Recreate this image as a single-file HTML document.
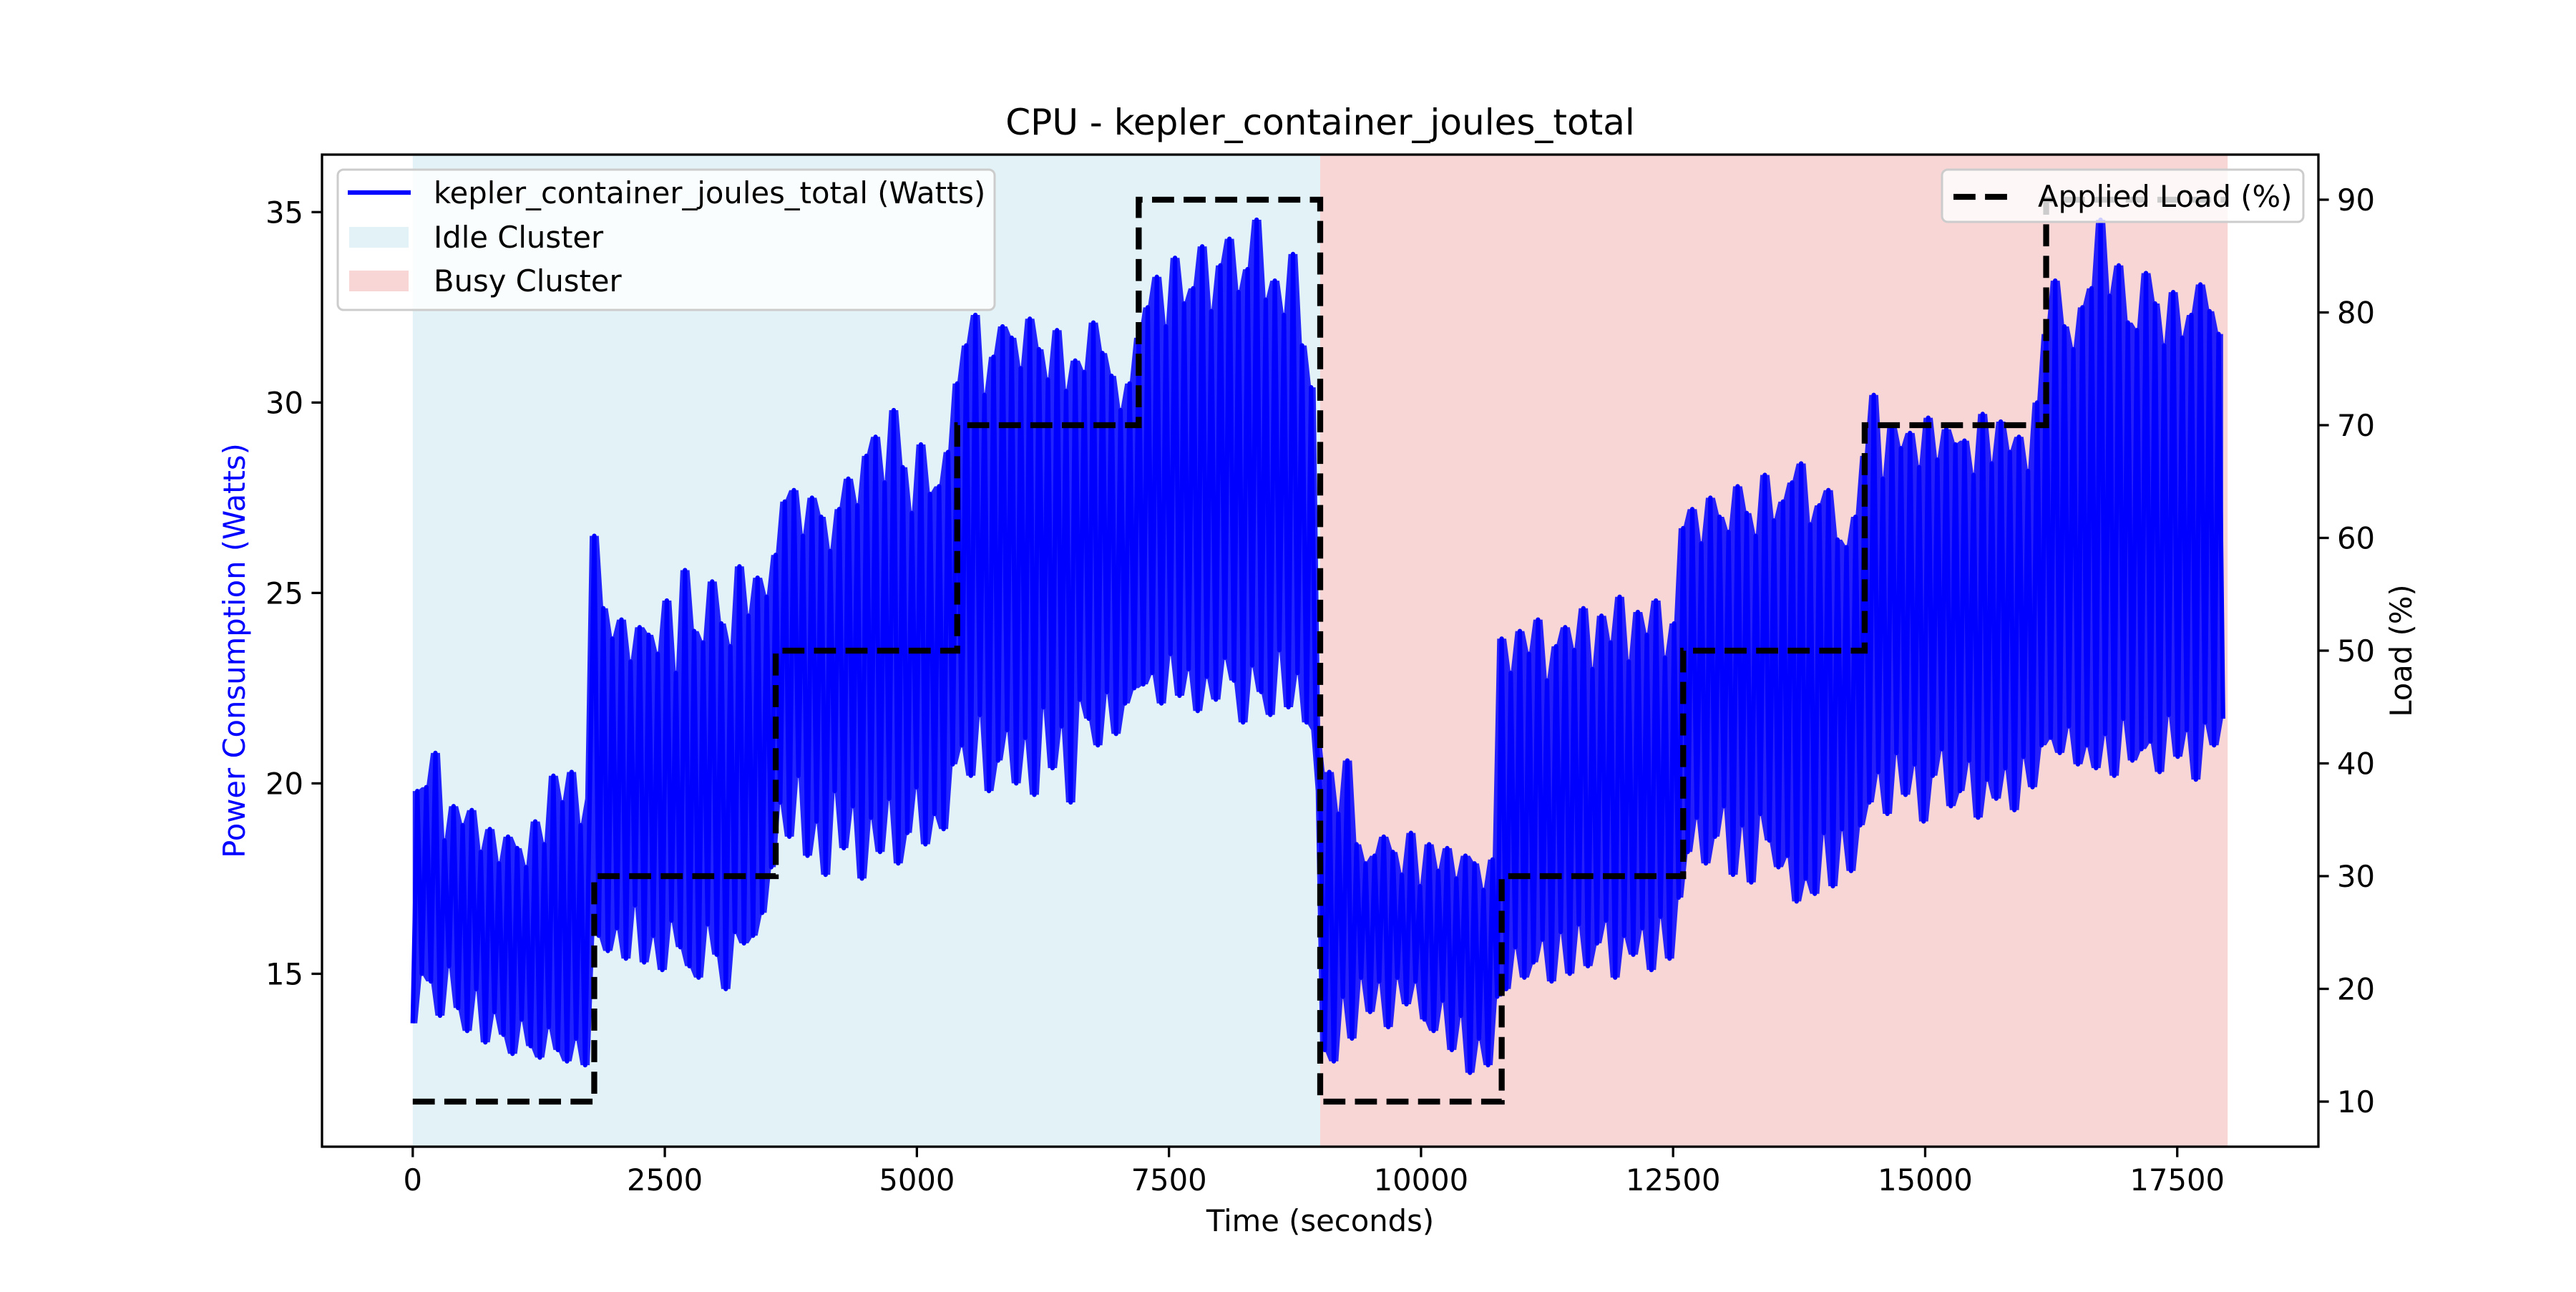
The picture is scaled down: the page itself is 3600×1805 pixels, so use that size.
<!DOCTYPE html>
<html><head><meta charset="utf-8"><style>
body{margin:0;background:#fff}
svg text{font-family:"DejaVu Sans","Liberation Sans",sans-serif}
</style></head><body>
<svg id="chart" width="3600" height="1800" xmlns="http://www.w3.org/2000/svg">
<rect width="3600" height="1800" fill="#fff"/>
<g id="spans"></g><g id="series"></g><g id="axes"></g><g id="legends"></g>
</svg>
<script>
const phaseStarts=[0,1800,3600,5400,7200,9000,10800,12600,14400,16200];
const loadLevels=[10,30,50,70,90,10,30,50,70,90];
const xTicks=[0,2500,5000,7500,10000,12500,15000,17500];
const yLeftTicks=[15,20,25,30,35];
const yRightTicks=[10,20,30,40,50,60,70,80,90];
const spanRanges=[[0,9000,'Idle Cluster','#e3f2f6'],[9000,18000,'Busy Cluster','#f9d6d6']];
const powerStep=45;
const power=[
13.7,19.8,15,19.9,14.8,20.8,13.9,18.5,15.2,19.4,14.1,18.9,13.5,19.3,14.6,18.2,13.2,18.8,14.0,17.9,13.4,18.6,12.9,18.3,13.8,17.8,13.1,19.0,12.8,18.4,13.6,20.2,13.0,19.5,12.7,20.3,13.3,18.9,12.6,19.6,
26.5,16.0,24.6,15.6,23.8,16.2,24.3,15.4,23.2,16.8,24.1,15.3,23.9,16.0,23.4,15.1,24.8,16.4,22.9,15.7,25.6,15.2,24.0,14.9,23.7,16.3,25.3,15.5,24.2,14.6,23.6,16.1,25.7,15.8,24.4,16.0,25.4,16.6,24.9,17.8,
26.0,19.5,27.4,18.6,27.7,20.2,26.5,18.1,27.5,19.0,27.0,17.6,26.1,19.8,27.2,18.3,28.0,19.4,27.3,17.5,28.6,19.1,29.1,18.2,27.9,19.6,29.8,17.9,28.3,18.7,27.1,19.9,28.9,18.4,27.6,19.2,27.8,18.8,28.7,20.5,
30.5,21.0,31.5,20.2,32.3,21.8,30.2,19.8,31.2,20.6,32.0,21.4,31.7,20.0,30.9,21.2,32.2,19.7,31.4,22.0,30.6,20.4,31.9,21.5,30.3,19.5,31.1,22.2,30.8,21.7,32.1,21.0,31.3,22.4,30.7,21.3,29.8,22.1,30.5,22.5,
31.7,22.6,32.5,22.9,33.3,22.1,32.0,23.4,33.8,22.3,32.6,23.0,33.0,21.9,34.1,22.8,32.4,22.2,33.6,23.3,34.3,22.7,32.9,21.6,33.5,23.1,34.8,22.4,32.7,21.8,33.2,23.5,32.3,22.0,33.9,22.9,31.5,21.6,30.4,21.4,
19.8,13.0,20.3,12.7,19.2,14.4,20.6,13.3,18.4,14.9,17.9,14.0,18.1,14.8,18.6,13.6,18.2,14.9,17.6,14.2,18.7,14.8,17.3,13.8,18.4,13.5,17.7,14.3,18.3,13.0,17.5,13.9,18.1,12.4,17.9,13.3,17.2,12.6,18.0,14.4,
23.8,14.6,22.9,15.7,24.0,14.9,23.4,15.3,24.3,15.9,22.7,14.8,23.6,16.1,24.1,15.0,23.5,16.3,24.6,15.2,23.0,15.8,24.4,16.4,23.7,14.9,24.9,16.0,23.2,15.5,24.5,16.2,23.9,15.1,24.8,16.5,23.3,15.4,24.2,17.0,
26.7,18.2,27.2,19.1,26.3,17.9,27.5,18.6,27.0,19.4,26.6,17.6,27.8,18.9,27.1,17.4,26.5,19.2,28.1,18.5,26.9,17.8,27.4,18.1,27.9,16.9,28.4,17.5,26.8,17.1,27.3,18.7,27.7,17.3,26.4,18.8,26.2,17.7,27.0,18.9,
28.6,19.5,30.2,20.3,28.0,19.2,29.4,20.8,28.8,19.7,29.2,20.5,28.3,19.0,29.6,20.2,28.5,20.9,29.3,19.4,28.9,19.8,29.0,20.6,28.1,19.1,29.7,20.1,28.4,19.6,29.5,20.4,28.7,19.3,29.1,20.7,28.2,19.9,30.0,21.0,
31.8,21.2,33.2,20.8,32.0,21.5,31.4,20.5,32.5,21.0,33.0,20.4,34.8,21.3,32.8,20.2,33.6,21.7,32.1,20.6,31.9,20.9,33.4,21.1,32.6,20.3,31.5,21.8,32.9,20.7,31.7,21.4,32.3,20.1,33.1,21.6,32.4,21.0,31.8,21.7
];
const NS='http://www.w3.org/2000/svg';
const L=450,R=3240,T=216,B=1602;
const xMin=-900,xMax=18900,yMin=10.46,yMax=36.51,rMin=6,rMax=94;
const xs=v=>L+(v-xMin)/(xMax-xMin)*(R-L);
const ys=v=>B-(v-yMin)/(yMax-yMin)*(B-T);
const yr=v=>B-(v-rMin)/(rMax-rMin)*(B-T);
function mk(tag,attrs,parent,text){const e=document.createElementNS(NS,tag);for(const k in attrs)e.setAttribute(k,attrs[k]);if(text!=null)e.textContent=text;parent.appendChild(e);return e;}
const gS=document.getElementById('spans'),gL=document.getElementById('series'),gA=document.getElementById('axes');
spanRanges.forEach(s=>{const r=mk('rect',{x:xs(s[0]),y:T,width:xs(s[1])-xs(s[0]),height:B-T,fill:s[3]},gS);

});
// dense envelope derived from the samples (rolling min/max of neighbours)
let up='',dn=[];
power.forEach((v,i)=>{const a=power[Math.max(0,i-1)],b=power[Math.min(power.length-1,i+1)];
const hi=Math.max(a,v,b),lo=Math.min(a,v,b);const x=xs(i*powerStep).toFixed(1);
up+=(i?'L':'M')+x+' '+ys(hi-0.35*(hi-lo)*0).toFixed(1);
dn.push('L'+x+' '+ys(lo+0.0).toFixed(1));});
const env=mk('path',{d:up+dn.reverse().join('')+'Z',fill:'#0000ff','fill-opacity':0.85,stroke:'none'},gL);


let d='';power.forEach((v,i)=>{d+=(i?'L':'M')+xs(i*powerStep).toFixed(1)+' '+ys(v).toFixed(1);});
const pl=mk('path',{d:d,fill:'none',stroke:'#0000ff','stroke-width':6.25,'stroke-linejoin':'round'},gL);


let dl='';phaseStarts.forEach((s,i)=>{dl+=(i?'L':'M')+xs(s)+' '+yr(loadLevels[i])+'L'+xs(i<phaseStarts.length-1?phaseStarts[i+1]:18000)+' '+yr(loadLevels[i]);});
const ll=mk('path',{d:dl,fill:'none',stroke:'#000','stroke-width':8.3,'stroke-dasharray':'30.8 13.3'},gL);


const fr=mk('rect',{x:L,y:T,width:R-L,height:B-T,fill:'none',stroke:'#000','stroke-width':3.3},gA);


xTicks.forEach(t=>{const x=xs(t);mk('line',{x1:x,x2:x,y1:B,y2:B+14.6,stroke:'#000','stroke-width':3.3},gA);
const tx=mk('text',{x:x,y:B+61,'font-size':41.7,'text-anchor':'middle'},gA,String(t));

});
yLeftTicks.forEach(t=>{const y=ys(t);mk('line',{x1:L-14.6,x2:L,y1:y,y2:y,stroke:'#000','stroke-width':3.3},gA);
const tx=mk('text',{x:L-26,y:y+15,'font-size':41.7,'text-anchor':'end'},gA,String(t));

});
yRightTicks.forEach(t=>{const y=yr(t);mk('line',{x1:R,x2:R+14.6,y1:y,y2:y,stroke:'#000','stroke-width':3.3},gA);
const tx=mk('text',{x:R+26,y:y+15,'font-size':41.7},gA,String(t));

});
</script>
<svg style="position:absolute;left:0;top:0" width="3600" height="1800" xmlns="http://www.w3.org/2000/svg">
<text x="1845" y="188" font-size="50" text-anchor="middle" font-family="DejaVu Sans,Liberation Sans,sans-serif">CPU - kepler_container_joules_total</text>
<text x="1845" y="1720" font-size="41.7" text-anchor="middle" font-family="DejaVu Sans,Liberation Sans,sans-serif">Time (seconds)</text>
<text transform="translate(342,909) rotate(-90)" font-size="41.7" fill="#0000ff" text-anchor="middle" font-family="DejaVu Sans,Liberation Sans,sans-serif">Power Consumption (Watts)</text>
<text transform="translate(3370,909) rotate(-90)" font-size="41.7" text-anchor="middle" font-family="DejaVu Sans,Liberation Sans,sans-serif">Load (%)</text>
<g font-family="DejaVu Sans,Liberation Sans,sans-serif" font-size="41.7">
<rect x="472" y="237" width="918" height="196" rx="8" fill="#fff" fill-opacity="0.8" stroke="#ccc" stroke-width="3"/>
<line x1="486" x2="574" y1="269" y2="269" stroke="#0000ff" stroke-width="6.25"/>
<text x="606" y="284">kepler_container_joules_total (Watts)</text>
<rect x="488" y="317" width="83" height="29" fill="#e3f2f6"/>
<text x="606" y="346">Idle Cluster</text>
<rect x="488" y="378" width="83" height="29" fill="#f9d6d6"/>
<text x="606" y="407">Busy Cluster</text>
</g>
<g font-family="DejaVu Sans,Liberation Sans,sans-serif" font-size="41.7">
<rect x="2714" y="237" width="505" height="73" rx="8" fill="#fff" fill-opacity="0.8" stroke="#ccc" stroke-width="3"/>
<line x1="2730" x2="2818" y1="275" y2="275" stroke="#000" stroke-width="8.3" stroke-dasharray="30.8 13.3"/>
<text x="2848" y="289">Applied Load (%)</text>
</g>
</svg>
</body></html>
